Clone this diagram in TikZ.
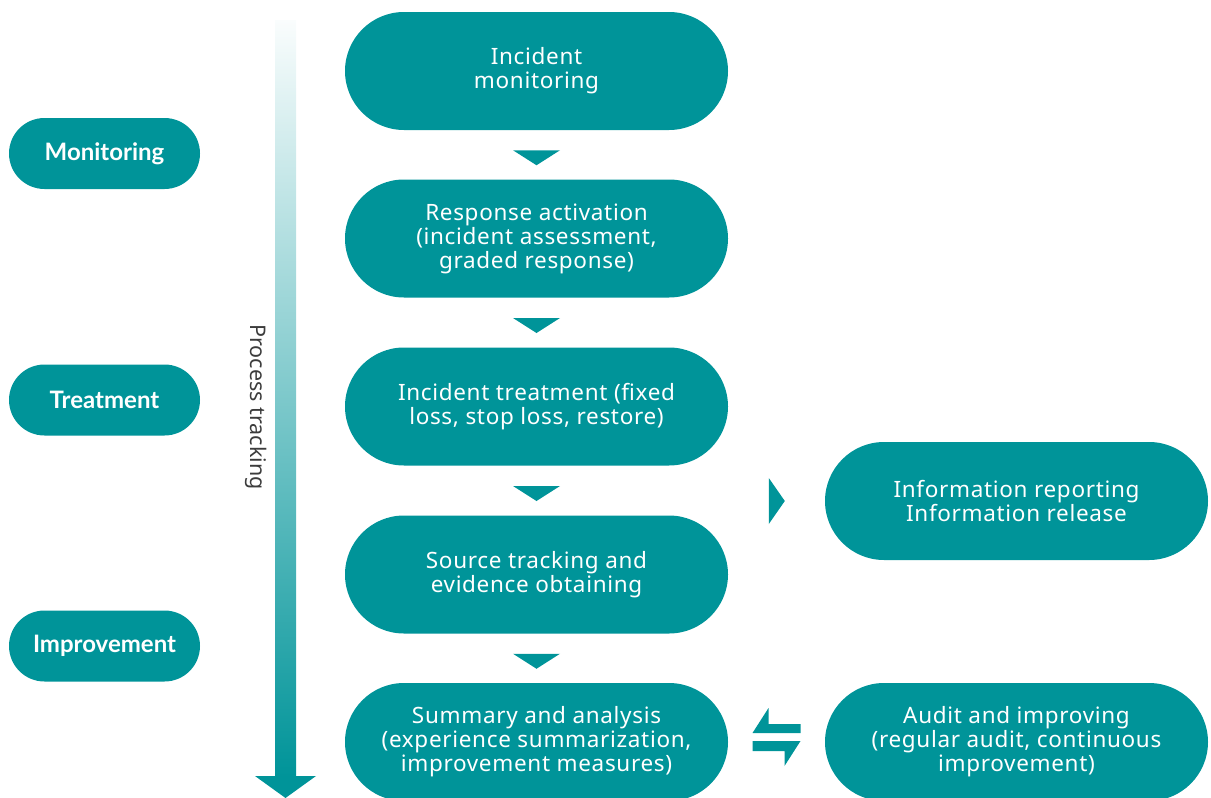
\documentclass[tikz,border=0pt]{standalone}
\usepackage{fontspec}
\setmainfont{Noto Sans}[LetterSpace=3]
\newfontfamily\phasefont{Lato}
\newfontfamily\ptfont{Noto Sans}
\usetikzlibrary{calc}
\definecolor{teal}{RGB}{0,148,153}
\definecolor{txtgray}{RGB}{60,60,60}
\begin{document}
\begin{tikzpicture}[x=1pt,y=-1pt,
  stepbox/.style={fill=teal,rounded corners=59pt,minimum width=383pt,minimum height=118pt,
    text=white,align=center,inner sep=0pt,font=\fontsize{22.5}{24}\selectfont},
  phase/.style={fill=teal,rounded corners=35.5pt,minimum width=191pt,minimum height=71pt,
    text=white,align=center,inner sep=0pt,font=\phasefont\fontsize{24}{28}\selectfont\bfseries},
  tri/.style={fill=teal}]
\useasboundingbox (0,0) rectangle (1211,798);
\clip (0,0) rectangle (1211,798);
% process tracking arrow
\shade[top color=teal!2, bottom color=teal, shading angle=0] (275,20) rectangle (296,777);
\fill[teal] (255,776) -- (316,776) -- (285.5,798) -- cycle;
\node[rotate=-90,text=txtgray,font=\ptfont\fontsize{21.5}{24}\selectfont] (pt) at (256,407) {Process tracking};
% phases
\node[phase] (mon) at (104.5,153.5) {Monitoring};
\node[phase] (tre) at (104.5,400) {Treatment};
\node[phase] (imp) at (104.5,646) {Improvement};
% main boxes
\node[stepbox] (b1) at (536.5,71) {Incident\\monitoring};
\node[stepbox] (b2) at (536.5,238.5) {Response activation\\(incident assessment,\\graded response)};
\node[stepbox] (b3) at (536.5,406.5) {Incident treatment (fixed\\loss, stop loss, restore)};
\node[stepbox] (b4) at (536.5,574.5) {Source tracking and\\evidence obtaining};
\node[stepbox] (b5) at (536.5,742) {Summary and analysis\\(experience summarization,\\improvement measures)};
\node[stepbox] (info) at (1016.5,501) {Information reporting\\Information release};
\node[stepbox] (aud) at (1016.5,742) {Audit and improving\\(regular audit, continuous\\improvement)};
% down triangles
\foreach \a/\b in {b1/b2,b2/b3,b3/b4,b4/b5}{
  \coordinate (m) at ($(\a.south)!0.5!(\b.north)$);
  \fill[tri] ($(m)+(-23.5,-4.5)$) -- ($(m)+(23.5,-4.5)$) -- ($(m)+(0,10.5)$) -- cycle;
}
% right triangle
\coordinate (r) at ($(info.west)+(-56,0)$);
\fill[tri] ($(r)+(0,-23)$) -- ($(r)+(16,0)$) -- ($(r)+(0,23)$) -- cycle;
% double arrow
\coordinate (d) at ($(b5.east)!0.5!(aud.west)$);
\fill[tri] ($(d)+(-24,-9)$) -- ($(d)+(-8,-34)$) -- ($(d)+(-8,-18)$) -- ($(d)+(24,-18)$) -- ($(d)+(24,-9)$) -- cycle;
\fill[tri] ($(d)+(-24,-1)$) -- ($(d)+(24,-1)$) -- ($(d)+(8,24)$) -- ($(d)+(8,9)$) -- ($(d)+(-24,9)$) -- cycle;
\end{tikzpicture}
\end{document}
